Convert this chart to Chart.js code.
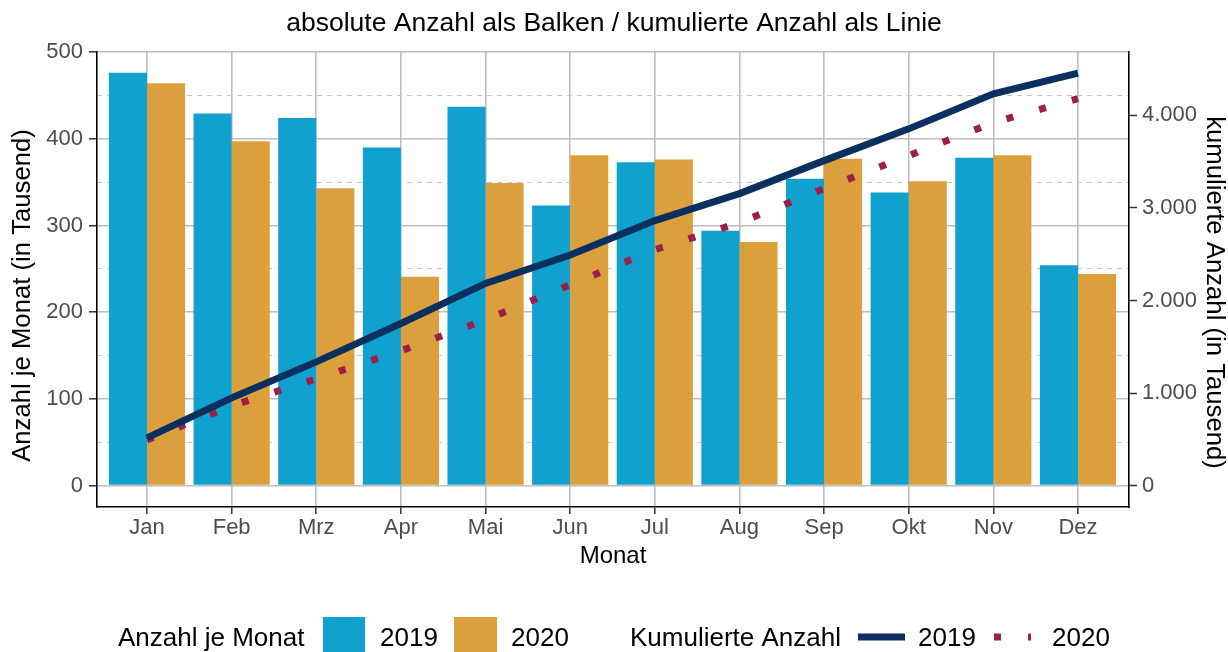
<!DOCTYPE html>
<html><head><meta charset="utf-8">
<script src="https://cdn.jsdelivr.net/npm/chart.js@4"></script>
<style>html,body{margin:0;padding:0;background:#fff;}#wrap{width:1228px;height:652px;}</style>
</head><body><div id="wrap"><canvas id="c" width="1228" height="652"></canvas></div>
<script>
const months = ['Jan','Feb','Mrz','Apr','Mai','Jun','Jul','Aug','Sep','Okt','Nov','Dez'];
const leftTicks = [0,100,200,300,400,500];
const minorTicks = [50,150,250,350,450];
const rightTicks = [0,1000,2000,3000,4000];
const years = ['2019','2020'];
const bars2019 = [476, 429, 424, 390, 437, 323, 373, 294, 354, 338, 378, 254];
const bars2020 = [464, 397, 343, 241, 349, 381, 376, 281, 377, 351, 381, 244];
const cum2019 = [516, 948, 1337, 1751, 2184, 2491, 2862, 3154, 3510, 3853, 4231, 4454];
const cum2020 = [494, 862, 1154, 1456, 1791, 2170, 2548, 2840, 3208, 3564, 3921, 4180];

const FONT = '"Liberation Sans", Arial, sans-serif';
const Y_MIN = -24.6, Y_MAX = 500, RATIO = 9.366;
const C_BLUE = '#11a1cf', C_ORANGE = '#dc9f3e', C_NAVY = '#0b3060', C_RED = '#9b1e4b';
const toXY = arr => arr.map((v, i) => ({x: i, y: v}));
const fmtDE = v => String(v).replace(/\B(?=(\d{3})+(?!\d))/g, '.');

const axisTitlePlugin = {
  id: 'axisTitles',
  afterDraw(chart) {
    const ctx = chart.ctx, ca = chart.chartArea;
    const midY = (ca.top + ca.bottom) / 2;
    ctx.save();
    ctx.font = '25.7px ' + FONT;
    ctx.fillStyle = '#000';
    ctx.textAlign = 'center';
    ctx.textBaseline = 'middle';
    ctx.save();
    ctx.translate(22.5, midY + 16);
    ctx.rotate(-Math.PI / 2);
    ctx.fillText('Anzahl je Monat (in Tausend)', 0, 0);
    ctx.restore();
    ctx.save();
    ctx.translate(1214, midY + 13);
    ctx.rotate(Math.PI / 2);
    ctx.fillText('kumulierte Anzahl (in Tausend)', 0, 0);
    ctx.restore();
    ctx.restore();
  }
};

const legendPlugin = {
  id: 'customLegend',
  afterDraw(chart) {
    const ctx = chart.ctx;
    ctx.save();
    ctx.font = '26px ' + FONT;
    ctx.fillStyle = '#000';
    ctx.textBaseline = 'alphabetic';
    const base = 646;
    ctx.fillText('Anzahl je Monat', 118, base);
    ctx.fillStyle = C_BLUE; ctx.fillRect(323, 617, 42, 43);
    ctx.fillStyle = '#000'; ctx.fillText(years[0], 380, base);
    ctx.fillStyle = C_ORANGE; ctx.fillRect(454, 617, 43, 43);
    ctx.fillStyle = '#000'; ctx.fillText(years[1], 511, base);
    ctx.fillText('Kumulierte Anzahl', 630, base);
    ctx.strokeStyle = C_NAVY; ctx.lineWidth = 7; ctx.lineCap = 'butt';
    ctx.beginPath(); ctx.moveTo(858, 637); ctx.lineTo(905, 637); ctx.stroke();
    ctx.fillText(years[0], 918, base);
    ctx.strokeStyle = C_RED; ctx.setLineDash([7, 27]);
    ctx.beginPath(); ctx.moveTo(994, 637); ctx.lineTo(1031, 637); ctx.stroke();
    ctx.setLineDash([]);
    ctx.fillText(years[1], 1052, base);
    ctx.restore();
  }
};

new Chart(document.getElementById('c'), {
  type: 'bar',
  data: {
    datasets: [
      {type: 'line', label: 'Kumuliert ' + years[0], data: toXY(cum2019), yAxisID: 'y2', xAxisID: 'x',
       borderColor: C_NAVY, borderWidth: 7, pointRadius: 0, tension: 0, borderCapStyle: 'butt', order: 0},
      {type: 'line', label: 'Kumuliert ' + years[1], data: toXY(cum2020), yAxisID: 'y2', xAxisID: 'x',
       borderColor: C_RED, borderWidth: 7, borderDash: [7, 27], pointRadius: 0, tension: 0, borderCapStyle: 'butt', order: 0},
      {label: years[0], data: toXY(bars2019), backgroundColor: C_BLUE, yAxisID: 'y', xAxisID: 'x',
       barPercentage: 1.0, categoryPercentage: 0.9, order: 1},
      {label: years[1], data: toXY(bars2020), backgroundColor: C_ORANGE, yAxisID: 'y', xAxisID: 'x',
       barPercentage: 1.0, categoryPercentage: 0.9, order: 1}
    ]
  },
  options: {
    responsive: false, animation: false, devicePixelRatio: 1,
    layout: {padding: {top: 0, left: 0, right: 0, bottom: 75}},
    plugins: {
      legend: {display: false}, tooltip: {enabled: false},
      title: {display: true, text: 'absolute Anzahl als Balken / kumulierte Anzahl als Linie', color: '#000',
              font: {family: FONT, size: 26.5, weight: 'normal'}, padding: {top: 8.2, bottom: 12.0}}
    },
    scales: {
      x: {
        type: 'linear', min: -0.591, max: 11.603, bounds: 'data', offset: false,
        afterBuildTicks: s => { s.ticks = months.map((m, i) => ({value: i})); },
        afterFit: s => { s.height = 70; },
        ticks: {callback: v => months[v], color: '#4d4d4d', font: {family: FONT, size: 22}, padding: 1, maxRotation: 0, autoSkip: false},
        grid: {color: '#bebebe', lineWidth: 1.6, tickColor: '#333', tickLength: 7, tickWidth: 1.5, offset: false},
        border: {display: true, color: '#000', width: 1.6},
        title: {display: true, text: 'Monat', color: '#000', font: {family: FONT, size: 24}, padding: {top: 0, bottom: 5.9}}
      },
      yMinor: {
        position: 'left', min: Y_MIN, max: Y_MAX, bounds: 'data',
        afterBuildTicks: s => { s.ticks = minorTicks.map(v => ({value: v})); },
        afterFit: s => { s.width = 0; },
        ticks: {display: false},
        grid: {color: '#c8c8c8', lineWidth: 1, drawTicks: false},
        border: {display: false, dash: [5, 5]}
      },
      y: {
        position: 'left', min: Y_MIN, max: Y_MAX, bounds: 'data',
        afterBuildTicks: s => { s.ticks = leftTicks.map(v => ({value: v})); },
        afterFit: s => { s.width = 97; },
        ticks: {color: '#4d4d4d', font: {family: FONT, size: 22}, padding: 6},
        grid: {color: '#bebebe', lineWidth: 1.6, tickColor: '#333', tickLength: 8, tickWidth: 1.5},
        border: {display: true, color: '#000', width: 1.6}
      },
      y2: {
        position: 'right', min: Y_MIN * RATIO, max: Y_MAX * RATIO, bounds: 'data',
        afterBuildTicks: s => { s.ticks = rightTicks.map(v => ({value: v})); },
        afterFit: s => { s.width = 99; },
        ticks: {color: '#4d4d4d', font: {family: FONT, size: 22}, padding: 5, callback: v => fmtDE(v)},
        grid: {drawOnChartArea: false, tickColor: '#333', tickLength: 8, tickWidth: 1.5},
        border: {display: true, color: '#000', width: 1.6}
      }
    }
  },
  plugins: [axisTitlePlugin, legendPlugin]
});
</script>
</body></html>
